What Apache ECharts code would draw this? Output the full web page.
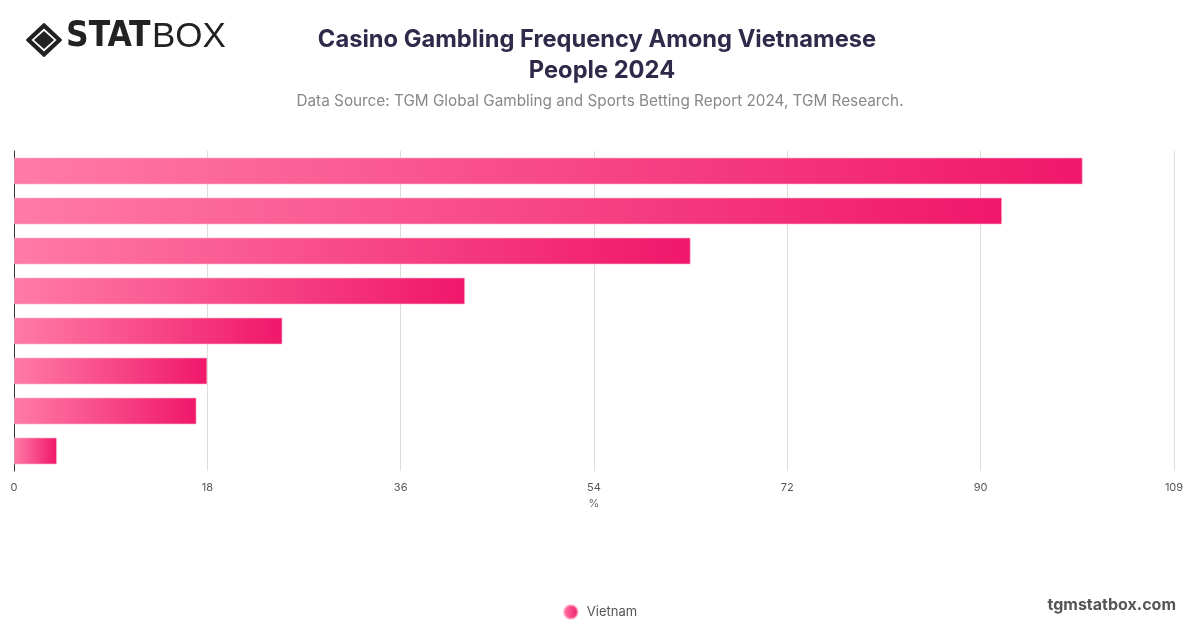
<!DOCTYPE html>
<html>
<head>
<meta charset="utf-8">
<script src="https://cdn.jsdelivr.net/npm/echarts@6/dist/echarts.min.js"></script>
<style>
html,body{margin:0;padding:0;background:#fff;}
#chart{width:1200px;height:628px;}
</style>
</head>
<body>
<div id="chart"></div>
<script>
// Data
const categories = ['Category 1','Category 2','Category 3','Category 4','Category 5','Category 6','Category 7','Category 8'];
const vietnamValues = [99.5, 92, 63, 42, 25, 18, 17, 4];
const xTickLabels = ['0','18','36','54','72','90','109'];
const seriesName = 'Vietnam';

const chart = echarts.init(document.getElementById('chart'));
const barGradient = new echarts.graphic.LinearGradient(0, 0, 1, 0, [
  {offset: 0, color: '#ff7ba6'},
  {offset: 1, color: '#f0176a'}
]);
const titleStyle = {fontFamily: 'Inter', fontWeight: 'bold', fontSize: 23.7, color: '#2e2b4a', lineHeight: 31};
const option = {
  backgroundColor: '#fff',
  animation: false,
  title: [{
    text: 'Casino Gambling Frequency Among Vietnamese',
    left: 592, top: 19, textAlign: 'center', textStyle: titleStyle
  }, {
    text: 'People 2024',
    left: 597, top: 50, textAlign: 'center', textStyle: titleStyle
  }, {
    text: 'Data Source: TGM Global Gambling and Sports Betting Report 2024, TGM Research.',
    left: 595, top: 89, textAlign: 'center',
    textStyle: {fontFamily: 'Inter', fontWeight: 'normal', fontSize: 15.3, color: '#888'}
  }],
  graphic: [
    {type: 'polygon', shape: {points: [[44,24],[61,40],[44,56],[27,40]]}, style: {fill: '#222', lineJoin: 'round', stroke: '#222', lineWidth: 2}},
    {type: 'polygon', shape: {points: [[44,28.5],[56.5,40],[44,51.5],[31.5,40]]}, style: {fill: '#fff'}},
    {type: 'polygon', shape: {points: [[44,31],[54,40],[44,49],[34,40]]}, style: {fill: '#222'}},
    {type: 'text', left: 66, top: 19, style: {text: 'STAT', font: 'bold 35px "DejaVu Sans Condensed"', fill: '#222'}},
    {type: 'text', left: 152, top: 20, style: {text: 'BOX', font: 'normal 35px "Liberation Sans"', fill: '#222'}},
    {type: 'text', right: 24, top: 597, style: {text: 'tgmstatbox.com', font: 'bold 16px Inter', fill: '#555'}}
  ],
  legend: {
    data: [seriesName], bottom: 3, left: 'center', icon: 'circle', itemWidth: 14, itemHeight: 14,
    textStyle: {fontFamily: 'Inter', fontSize: 13, color: '#555', padding: [0, 0, 0, 4]}
  },
  grid: {left: 14, right: 26, top: 151, bottom: 157, containLabel: false},
  xAxis: {
    type: 'value', min: 0, max: 108, interval: 18,
    name: '%', nameLocation: 'middle', nameGap: 18,
    nameTextStyle: {fontFamily: 'Inter', fontSize: 11, color: '#666'},
    axisLine: {show: false}, axisTick: {show: false},
    splitLine: {show: true, lineStyle: {color: '#ddd', width: 1}},
    axisLabel: {fontFamily: 'Inter', fontSize: 11, color: '#555', margin: 11,
      formatter: (v, i) => xTickLabels[i] !== undefined ? xTickLabels[i] : String(v)}
  },
  yAxis: {
    type: 'category', data: categories, inverse: true,
    axisLine: {show: true, lineStyle: {color: '#333', width: 1}},
    axisTick: {show: false}, axisLabel: {show: false}, splitLine: {show: false}
  },
  series: [{
    name: seriesName, type: 'bar', data: vietnamValues, barWidth: 27,
    itemStyle: {color: barGradient, borderColor: 'rgba(255,180,205,0.6)', borderWidth: 1}
  }]
};
chart.setOption(option);
</script>
</body>
</html>
